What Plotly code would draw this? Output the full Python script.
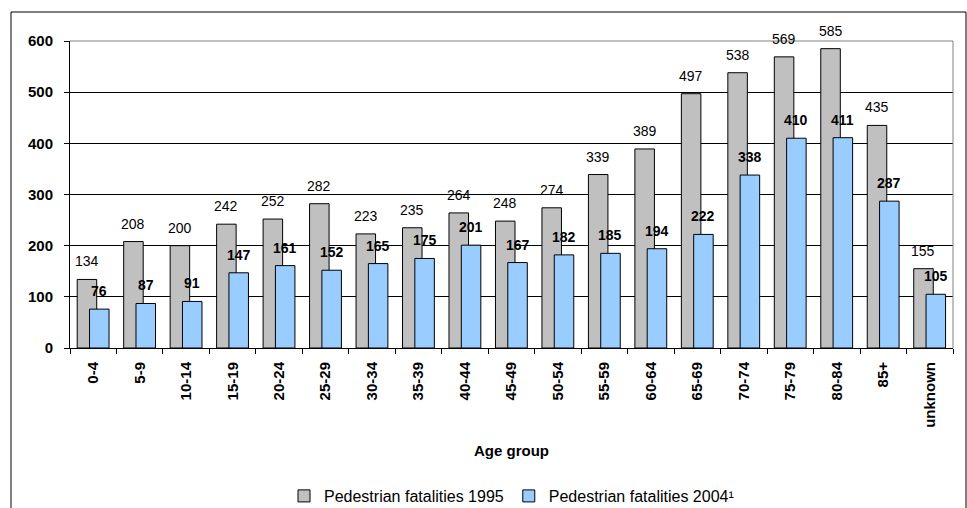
import plotly.graph_objects as go

# Pedestrian fatalities by age group
age_groups = ["0-4", "5-9", "10-14", "15-19", "20-24", "25-29", "30-34", "35-39",
              "40-44", "45-49", "50-54", "55-59", "60-64", "65-69", "70-74",
              "75-79", "80-84", "85+", "unknown"]
fatalities_1995 = [134, 208, 200, 242, 252, 282, 223, 235, 264, 248, 274, 339,
                   389, 497, 538, 569, 585, 435, 155]
fatalities_2004 = [76, 87, 91, 147, 161, 152, 165, 175, 201, 167, 182, 185,
                   194, 222, 338, 410, 411, 287, 105]
y_ticks = [0, 100, 200, 300, 400, 500, 600]

FONT = "Arial, Liberation Sans, sans-serif"
W, H = 967, 508
L, R, T, B = 70, 14, 41, 160
plot_w = W - L - R
plot_h = H - T - B

BAR_W = 0.42
OFF_1995 = -0.345
OFF_2004 = -0.08

fig = go.Figure()
fig.add_trace(go.Bar(
    x=age_groups, y=fatalities_1995, name="Pedestrian fatalities 1995",
    width=BAR_W, offset=OFF_1995,
    marker=dict(color="#C0C0C0", line=dict(color="#000000", width=1)),
))
fig.add_trace(go.Bar(
    x=age_groups, y=fatalities_2004, name="Pedestrian fatalities 2004¹",
    width=BAR_W, offset=OFF_2004,
    marker=dict(color="#99CCFF", line=dict(color="#000000", width=1)),
))

# value labels above each bar
annotations = []
for i, (a, b) in enumerate(zip(fatalities_1995, fatalities_2004)):
    annotations.append(dict(
        x=i + OFF_1995 + BAR_W / 2, y=a, xref="x", yref="y", text=str(a),
        showarrow=False, yshift=18, yanchor="middle",
        font=dict(family=FONT, size=14, color="#000000"),
    ))
    annotations.append(dict(
        x=i + OFF_2004 + BAR_W / 2, y=b, xref="x", yref="y", text=f"<b>{b}</b>",
        showarrow=False, yshift=18, yanchor="middle",
        font=dict(family=FONT, size=14, color="#000000"),
    ))

# x-axis title
annotations.append(dict(
    x=0.5, y=(T + plot_h - 450) / plot_h, xref="paper", yref="paper",
    text="<b>Age group</b>", showarrow=False, yanchor="middle",
    font=dict(family=FONT, size=15, color="#000000"),
))

shapes = [
    # plot-area border (top and right)
    dict(type="line", xref="paper", yref="paper", x0=0, x1=1, y0=1, y1=1,
         line=dict(color="#808080", width=1), layer="above"),
    dict(type="line", xref="paper", yref="paper", x0=1, x1=1, y0=0, y1=1,
         line=dict(color="#808080", width=1), layer="above"),
    # chart-area frame
    dict(type="rect", xref="paper", yref="paper",
         x0=(11 - L) / plot_w, x1=(966 - L) / plot_w,
         y0=(T + plot_h - 520) / plot_h, y1=(T + plot_h - 12) / plot_h,
         line=dict(color="#000000", width=1), layer="below"),
]

fig.update_layout(
    width=W, height=H,
    margin=dict(l=L, r=R, t=T, b=B, autoexpand=False),
    paper_bgcolor="#FFFFFF", plot_bgcolor="#FFFFFF",
    barmode="overlay",
    showlegend=True,
    legend=dict(
        orientation="h", x=0.5, xanchor="center",
        yref="container", y=1 - 496 / H, yanchor="middle",
        font=dict(family=FONT, size=16, color="#000000"),
        itemwidth=30, tracegroupgap=0,
    ),
    annotations=annotations,
    shapes=shapes,
    font=dict(family=FONT, color="#000000"),
)

fig.update_xaxes(
    type="category",
    categoryorder="array", categoryarray=age_groups,
    range=[-0.5, len(age_groups) - 0.5],
    automargin=False,
    showline=True, linecolor="#000000", linewidth=1,
    ticks="outside", tickson="boundaries", ticklen=5, tickcolor="#000000",
    tickangle=-90, ticklabelstandoff=7,
    tickfont=dict(family=FONT, size=15, color="#000000", weight="bold"),
    showgrid=False,
)
fig.update_yaxes(
    range=[0, 600], tickvals=y_ticks,
    automargin=False,
    showline=True, linecolor="#000000", linewidth=1,
    ticks="outside", ticklen=5, tickcolor="#000000",
    ticklabelstandoff=8,
    tickfont=dict(family=FONT, size=15, color="#000000", weight="bold"),
    showgrid=True, gridcolor="#000000", gridwidth=1,
    zeroline=False,
)

fig.write_html("out.html")
